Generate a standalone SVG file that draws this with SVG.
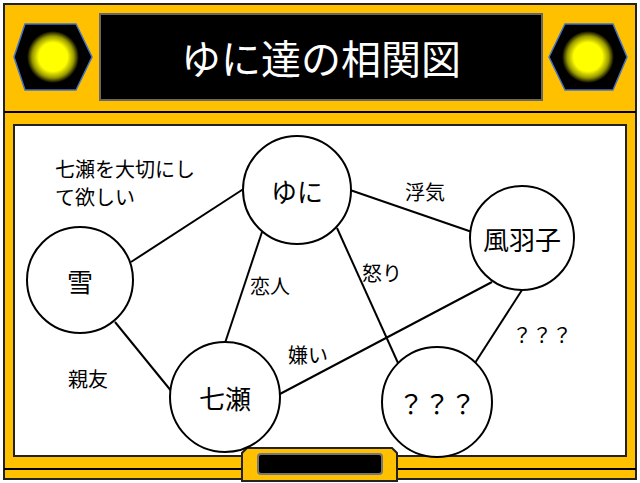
<svg xmlns="http://www.w3.org/2000/svg" width="640" height="483" viewBox="0 0 640 483">
<defs>
<radialGradient id="glow"><stop offset="0.55" stop-color="#ffff00"/><stop offset="0.8" stop-color="#ffff00" stop-opacity="0.6"/><stop offset="1" stop-color="#ffff00" stop-opacity="0"/></radialGradient>
<style>
.o{fill:#ffc000;stroke:#222;stroke-width:2}
.n{fill:#fff;stroke:#000;stroke-width:2}
.t{font-family:"Noto Sans CJK JP","Noto Sans",sans-serif;font-size:20px;fill:#000}
.nt{font-family:"Noto Sans CJK JP","Noto Sans",sans-serif;font-size:26px;fill:#000;text-anchor:middle;dominant-baseline:central}
line{stroke:#000;stroke-width:2}
</style>
</defs>
<rect x="0" y="0" width="640" height="483" fill="#fff"/>
<rect class="o" x="4" y="4" width="632" height="475"/>
<line x1="4" y1="112" x2="636" y2="112"/>
<line x1="4" y1="469" x2="636" y2="469"/>
<rect x="14" y="125" width="612" height="331" fill="#fff" stroke="#222" stroke-width="2"/>
<path class="o" d="M242,481 V453 L247,448 H392 L397,453 V481 Z"/>
<rect x="258" y="454" width="124" height="20" rx="3" fill="#000" stroke="#777" stroke-width="2"/>
<rect x="100" y="14" width="442" height="86" fill="#000" stroke="#666" stroke-width="2"/>
<text x="321" y="57" font-family="'Noto Sans CJK JP',sans-serif" font-size="40" fill="#fff" text-anchor="middle" dominant-baseline="central">ゆに達の相関図</text>
<g id="hexL"><path d="M14,57 L25,24 H76 L92,57 L76,90 H25 Z" fill="#000" stroke="#4472c4" stroke-width="1.5"/><circle cx="53" cy="57" r="26" fill="url(#glow)"/></g>
<g id="hexR"><path d="M549,57 L565,24 H613 L627,57 L613,90 H565 Z" fill="#000" stroke="#4472c4" stroke-width="1.5"/><circle cx="588" cy="57" r="26" fill="url(#glow)"/></g>
<g id="connectors">
<line x1="131" y1="262" x2="245" y2="188"/>
<line x1="350" y1="190" x2="472" y2="232"/>
<line x1="262" y1="232" x2="225" y2="343"/>
<line x1="337" y1="228" x2="398" y2="363"/>
<line x1="278" y1="395" x2="492" y2="282"/>
<line x1="115" y1="322" x2="172" y2="392"/>
<line x1="522" y1="290" x2="475" y2="363"/>
</g>
<g id="labels">
<text class="t" x="55" y="177">七瀬を大切にし</text>
<text class="t" x="55" y="205">て欲しい</text>
<text class="t" x="405" y="200">浮気</text>
<text class="t" x="250" y="294">恋人</text>
<text class="t" x="362" y="281">怒り</text>
<text class="t" x="288" y="363">嫌い</text>
<text class="t" x="68" y="387">親友</text>
<text class="t" x="512" y="343">？？？</text>
</g>
<g id="yuni"><circle class="n" cx="297" cy="190" r="54"/><text class="nt" x="297" y="190">ゆに</text></g>
<g id="yuki"><circle class="n" cx="80" cy="280" r="53"/><text class="nt" x="80" y="280">雪</text></g>
<g id="nanase"><circle class="n" cx="225" cy="397" r="55"/><text class="nt" x="225" y="397">七瀬</text></g>
<g id="fuwako"><circle class="n" cx="522" cy="238" r="52"/><text class="nt" x="522" y="238">風羽子</text></g>
<g id="unknown"><circle class="n" cx="437" cy="402" r="55"/><text class="nt" x="437" y="402">？？？</text></g>
</svg>
